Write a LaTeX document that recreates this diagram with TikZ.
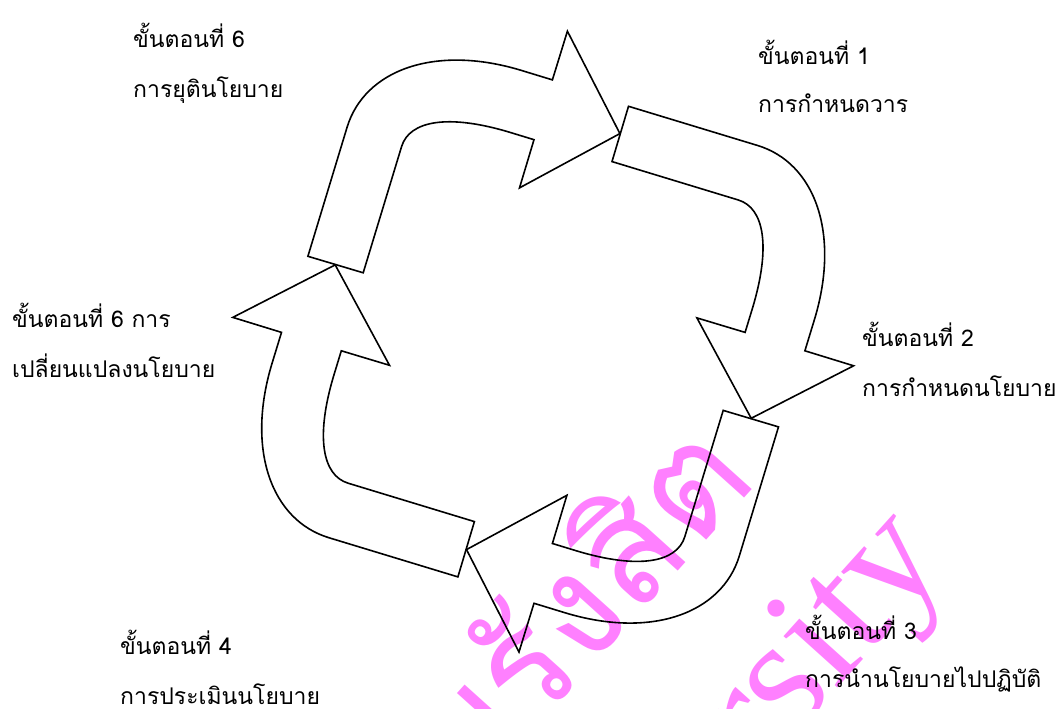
\documentclass[tikz,border=0pt]{standalone}
\usepackage{fontspec}
\newfontfamily\thaifont[Script=Thai]{Loma}
\newfontfamily\wmserif{Liberation Serif}
\definecolor{wmpink}{RGB}{255,128,255}
\begin{document}
\begin{tikzpicture}[x=1pt,y=1pt,
  cyclearrow/.style={draw=black,line width=1.6pt,line join=miter},
  steplabel/.style={anchor=base west,inner sep=0pt,font=\thaifont\fontsize{23}{23}\selectfont,text=black},
  watermark/.style={text=wmpink,inner sep=0pt}]
\useasboundingbox (0,0) rectangle (1061,709);
\begin{scope}
\clip (0,0) rectangle (1061,709);
\node[watermark, font=\thaifont\fontsize{147}{147}\selectfont, rotate=48, anchor=base east] (wmth) at (759,228) {มหาวิทยาลัยรังสิต};
\node[watermark, font=\wmserif\fontsize{162}{162}\selectfont, rotate=48, anchor=base east] (wmen) at (950,146) {Rangsit University};
\end{scope}
\begin{scope}[shift={(543.2,367.4)}]
\foreach \r in {0,-90,-180,-270}{
  \draw[cyclearrow,rotate=\r] (-235.3,85.3) -- (-196.1,214.4)
    .. controls (-178.6,271.8) and (-108.1,297.4) .. (-21.9,271.2)
    -- (9.2,261.7) -- (24.2,310.4) -- (76.7,208.0) -- (-23.7,153.7) -- (-9.2,201.9)
    -- (-32.8,209.1) .. controls (-95.0,228.0) and (-133.7,221.0) .. (-141.6,195.1)
    -- (-180,68.8) -- cycle;
}
\end{scope}
\node[steplabel] (s6a) at (133,661) {ขั้นตอนที่ 6};
\node[steplabel] (s6b) at (133,611) {การยุตินโยบาย};
\node[steplabel] (s1a) at (758,644) {ขั้นตอนที่ 1};
\node[steplabel] (s1b) at (758,596) {การกำหนดวาร};
\node[steplabel] (s5a) at (12,381) {ขั้นตอนที่ 6 การ};
\node[steplabel] (s5b) at (12,331) {เปลี่ยนแปลงนโยบาย};
\node[steplabel] (s2a) at (862,362) {ขั้นตอนที่ 2};
\node[steplabel] (s2b) at (862,312) {การกำหนดนโยบาย};
\node[steplabel] (s4a) at (120,54) {ขั้นตอนที่ 4};
\node[steplabel] (s4b) at (120,4) {การประเมินนโยบาย};
\node[steplabel] (s3a) at (805,69) {ขั้นตอนที่ 3};
\node[steplabel] (s3b) at (805,21) {การนำนโยบายไปปฏิบัติ};
\end{tikzpicture}
\end{document}
